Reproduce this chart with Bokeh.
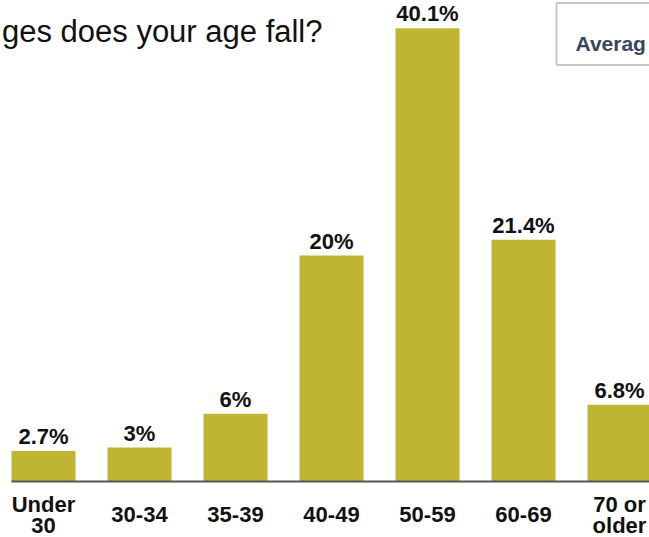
from bokeh.plotting import figure
from bokeh.models import Range1d, ColumnDataSource, LabelSet, Label, BoxAnnotation, Segment
from bokeh.core.properties import value
from bokeh.embed import file_html
from bokeh.resources import INLINE
import numpy as np

# ---- data ----
categories = ["Under\n30", "30-34", "35-39", "40-49", "50-59", "60-69", "70 or\nolder"]
values = [2.7, 3, 6, 20, 40.1, 21.4, 6.8]
value_labels = ["2.7%", "3%", "6%", "20%", "40.1%", "21.4%", "6.8%"]
title_text = "ges does your age fall?"
box_text = "Averag"

# ---- layout (pixels) ----
W, H = 649, 537
STEP = 96.0          # px per category
FIRST_CX = 43.0      # centre of first bar, px from left
BASE = 481.0         # baseline, px from top
PX_PER_PCT = 11.3    # vertical scale
BAR_W = 64.0 / STEP
CAT_BASELINE = 40.5  # px below BASE for single-line category labels
LINE_PITCH = 21.0

x0 = -FIRST_CX / STEP
x1 = (W - FIRST_CX) / STEP
y0 = -(H - BASE) / PX_PER_PCT
y1 = BASE / PX_PER_PCT


def xd(px):
    return x0 + px / STEP


def yd(py):
    return y1 - py / PX_PER_PCT


idx = np.arange(len(categories))
src = ColumnDataSource(dict(x=idx, top=values, vlab=value_labels))

# category label lines, each line centred separately
lx, ltext, loff = [], [], []
for i, cat in enumerate(categories):
    lines = cat.split("\n")
    n = len(lines)
    for j, ln in enumerate(lines):
        lx.append(i)
        ltext.append(ln)
        loff.append(-(CAT_BASELINE + (j - (n - 1) / 2) * LINE_PITCH))
cat_src = ColumnDataSource(dict(x=lx, y=[0] * len(lx), t=ltext, off=loff))

p = figure(width=W, height=H, x_range=Range1d(x0, x1), y_range=Range1d(y0, y1),
           output_backend="svg", toolbar_location=None, min_border=0,
           x_axis_type=None, y_axis_type=None)
p.grid.visible = False
p.outline_line_color = None
p.background_fill_color = "white"
p.border_fill_color = "white"

p.vbar(x="x", top="top", bottom=0, width=BAR_W, source=src,
       fill_color="#BEB632", line_color=None)

# baseline
base_src = ColumnDataSource(dict(xs=[idx[0] - BAR_W / 2], xe=[x1 + 1], ys=[0], ye=[0]))
p.add_glyph(base_src, Segment(x0="xs", y0="ys", x1="xe", y1="ye",
                              line_color="#555555", line_width=2))

FONT = "Liberation Sans"

p.add_layout(LabelSet(x="x", y="top", text="vlab", source=src, y_offset=7,
                      text_align="center", text_baseline="alphabetic",
                      text_font=value(FONT), text_font_style="bold", text_font_size="22px",
                      text_color="#111111"))

p.add_layout(LabelSet(x="x", y="y", text="t", source=cat_src, y_offset="off",
                      text_align="center", text_baseline="alphabetic",
                      text_font=value(FONT), text_font_style="bold", text_font_size="22px",
                      text_color="#111111"))

# title fragment
p.add_layout(Label(x=xd(322), y=yd(31), text=title_text, text_align="right",
                   text_baseline="alphabetic", text_font=FONT,
                   text_font_size="31px", text_color="#111111"))

# box top-right
p.add_layout(BoxAnnotation(left=xd(556), right=xd(720), top=yd(2.5), bottom=yd(64.5),
                           fill_color=None, line_color="#3b4459", line_width=2))
p.add_layout(Label(x=xd(575), y=yd(42.5), text=box_text, text_align="left",
                   text_baseline="alphabetic", text_font=FONT, text_font_style="bold",
                   text_font_size="21px", text_color="#3b4560"))

open("out.html", "w").write(file_html(p, INLINE))
